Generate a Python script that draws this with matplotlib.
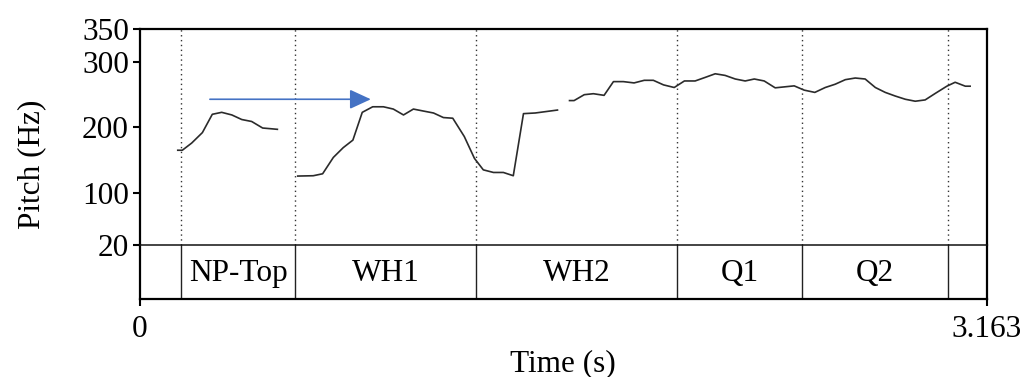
import numpy as np
import matplotlib
matplotlib.use("Agg")
import matplotlib.pyplot as plt

plt.rcParams['font.family'] = ['Liberation Serif', 'DejaVu Serif']

# pitch track (s, Hz); nan marks unvoiced gaps
time_s = [0.141, 0.158, 0.193, 0.233, 0.270, 0.305, 0.343, 0.380, 0.417, 0.458, 0.486, 0.513,
          np.nan,
          0.589, 0.647, 0.682, 0.722, 0.759, 0.795, 0.830, 0.869, 0.909, 0.946, 0.984, 1.021,
          1.058, 1.096, 1.133, 1.168, 1.211, 1.249, 1.282, 1.320, 1.357, 1.394, 1.432, 1.476,
          1.513, 1.559,
          np.nan,
          1.604, 1.621, 1.659, 1.693, 1.733, 1.768, 1.805, 1.845, 1.883, 1.917, 1.955, 1.995,
          2.033, 2.073, 2.111, 2.148, 2.185, 2.223, 2.260, 2.294, 2.331, 2.372, 2.443, 2.480,
          2.520, 2.559, 2.596, 2.634, 2.671, 2.708, 2.746, 2.783, 2.820, 2.858, 2.895, 2.932,
          2.970, 3.013, 3.044, 3.082, 3.100]
pitch_hz = [165, 165, 176, 192, 220, 223, 219, 212, 209, 199, 198, 197,
            np.nan,
            125.5, 126, 129, 154, 169, 180.5, 223, 231.5, 231.5, 228, 219, 228,
            225, 222, 215, 214, 186, 152.5, 135, 131, 131, 126, 221, 222,
            224, 226.5,
            np.nan,
            241, 241, 250, 251.5, 249, 270, 270, 268, 272, 272, 265, 261,
            271, 271, 276.5, 282, 279.5, 274, 271, 274, 271, 260.5, 263.5, 257,
            253.5, 261, 266, 273, 275.5, 274, 261, 253.5, 248, 243, 240, 242,
            252, 263, 269, 263, 263]

# text tier
boundaries = [0.153, 0.580, 1.255, 2.007, 2.473, 3.017]
labels = ["NP-Top", "WH1", "WH2", "Q1", "Q2"]

total_dur = 3.163
y_ticks = [20, 100, 200, 300, 350]

arrow_start = (0.261, 243)
arrow_end = (0.862, 243)

fig = plt.figure(figsize=(10.35, 3.77), dpi=100)
L, W = 140 / 1035, 847 / 1035
ax = fig.add_axes([L, 0.3501, W, 0.5721])
tier = fig.add_axes([L, 0.2061, W, 0.1440])

ax.plot(time_s, pitch_hz, color="#2b2b2b", lw=1.2)
for b in boundaries:
    ax.axvline(b, color="#333333", lw=1.0, ls=(0, (1, 2.5)))
    tier.axvline(b, color="#222222", lw=1.0)

ax.annotate("", xy=arrow_end, xytext=arrow_start,
            arrowprops=dict(arrowstyle="-|>,head_length=1.3,head_width=0.6",
                            color="#4472C4", lw=1.2, shrinkA=0, shrinkB=0))

ax.set_xlim(0, total_dur)
ax.set_ylim(20, 350)
ax.set_yticks(y_ticks)
ax.set_yticklabels([str(v) for v in y_ticks])
ax.set_xticks([])
ax.tick_params(axis="y", direction="out", length=5, width=1.5, labelsize=22.5, pad=3)
for s in ["left", "top", "right"]:
    ax.spines[s].set_linewidth(1.6)
ax.spines["bottom"].set_visible(False)

tier.set_xlim(0, total_dur)
tier.set_ylim(0, 1)
mids = [(a + b) / 2 for a, b in zip(boundaries[:-1], boundaries[1:])]
for m, lab in zip(mids, labels):
    tier.text(m, 0.47, lab, ha="center", va="center", fontsize=22.5)
tier.set_yticks([])
tier.set_xticks([0, total_dur])
tier.set_xticklabels(["0", "3.163"])
tier.tick_params(axis="x", direction="out", length=5, width=1.5, labelsize=22.5, pad=6)
for s in ["left", "bottom", "right"]:
    tier.spines[s].set_linewidth(1.6)
tier.spines["top"].set_linewidth(1.1)
tier.spines["top"].set_color("#111111")

fig.text(32 / 1035, 1 - 164 / 377, "Pitch (Hz)", rotation=90,
         ha="center", va="center", fontsize=22.5)
fig.text(563 / 1035, 1 - 364 / 377, "Time (s)", ha="center", va="center", fontsize=22.5)

fig.savefig("out.png", dpi=100)
